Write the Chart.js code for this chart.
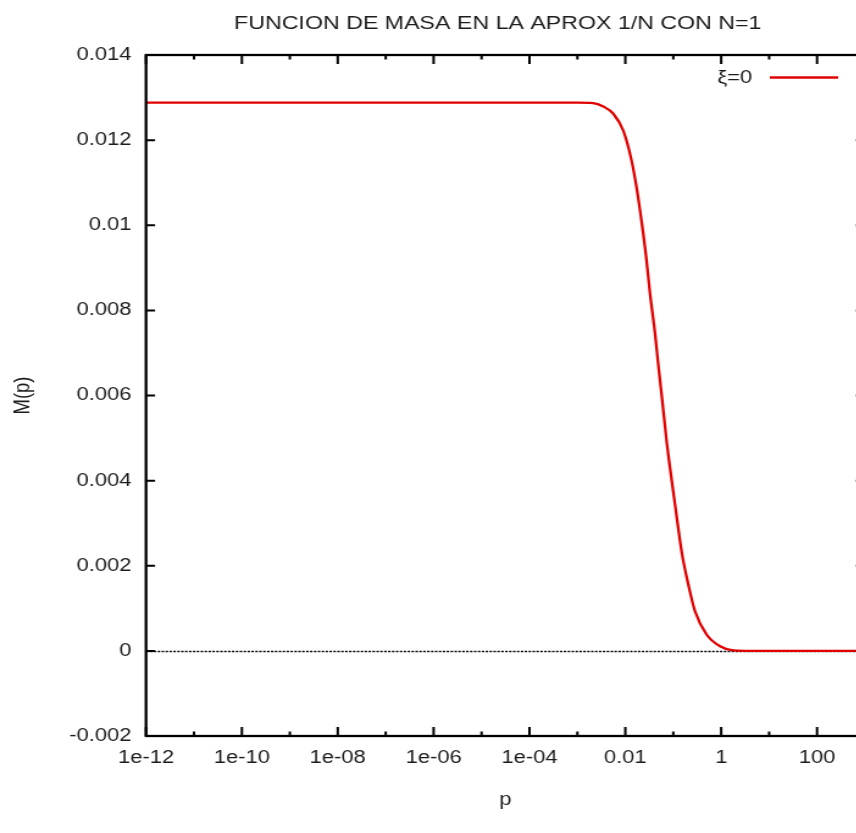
<!DOCTYPE html>
<html>
<head>
<meta charset="utf-8">
<script src="https://cdn.jsdelivr.net/npm/chart.js@4"></script>
<style>
  html, body { margin: 0; padding: 0; background: #fff; overflow: hidden; width: 856px; height: 833px; }
  /* the plot is laid out narrow and widened horizontally */
  #wrap { position: absolute; left: 0; top: 0; width: 816px; height: 833px; transform: scaleX(1.22); transform-origin: 0 0; }
</style>
</head>
<body>
<div id="wrap"><canvas id="c"></canvas></div>
<script>
// momentum p (log axis) and mass function M(p)
const momenta = [1e-12, 1e-10, 1e-8, 1e-6, 1e-4, 1e-3, 2.12e-3, 3.47e-3, 5.62e-3, 9.08e-3,
  1.36e-2, 1.73e-2, 2.20e-2, 2.70e-2, 3.27e-2, 4.17e-2, 4.89e-2, 5.74e-2, 7.31e-2, 9.29e-2,
  0.118, 0.150, 0.207, 0.284, 0.499, 0.946, 1.79, 3, 10, 100, 1000];
const massValues = [0.01288, 0.01288, 0.01288, 0.01288, 0.01288, 0.01288, 0.01287, 0.01279, 0.01262, 0.01222,
  0.01150, 0.01086, 0.01006, 0.00928, 0.00840, 0.00745, 0.00670, 0.00600, 0.00490, 0.00400,
  0.00315, 0.00232, 0.00155, 0.00093, 0.00038, 0.00011, 0.00001, 0, 0, 0, 0];
const seriesLabel = 'ξ=0';

const xTickValues = [1e-12, 1e-11, 1e-10, 1e-9, 1e-8, 1e-7, 1e-6, 1e-5, 1e-4, 1e-3, 1e-2, 1e-1, 1, 10, 100, 1000];
const xTickLabels = ['1e-12', '', '1e-10', '', '1e-08', '', '1e-06', '', '1e-04', '', '0.01', '', '1', '', '100', ''];
const yTickValues = [-0.002, 0, 0.002, 0.004, 0.006, 0.008, 0.01, 0.012, 0.014];
const yTickLabels = ['-0.002', '0', '0.002', '0.004', '0.006', '0.008', '0.01', '0.012', '0.014'];

const FONT = "'Liberation Sans', Arial, Helvetica, sans-serif";
const INK = '#1c1c1c';
const RED = '#e00000';

// gnuplot-style frame: border on all sides, inward ticks, dotted zero axis, key
const framePlugin = {
  id: 'frame',
  beforeDatasetsDraw(chart) {
    const { ctx, chartArea: a, scales: { y } } = chart;
    const y0 = Math.round(y.getPixelForValue(0)) + 0.5;
    ctx.save();
    ctx.strokeStyle = '#000';
    ctx.lineWidth = 1.5;
    ctx.setLineDash([2, 1.2]);
    ctx.beginPath();
    ctx.moveTo(a.left, y0);
    ctx.lineTo(a.right, y0);
    ctx.stroke();
    ctx.restore();
  },
  afterDatasetsDraw(chart) {
    const { ctx, chartArea: a, scales: { x, y } } = chart;
    ctx.save();
    ctx.strokeStyle = '#000';
    ctx.lineWidth = 2;
    ctx.lineCap = 'butt';
    // ticks
    xTickValues.forEach((v, i) => {
      const px = x.getPixelForValue(v);
      const len = xTickLabels[i] ? 9 : 4.5;
      ctx.beginPath();
      ctx.moveTo(px, a.bottom); ctx.lineTo(px, a.bottom - len);
      ctx.moveTo(px, a.top); ctx.lineTo(px, a.top + len);
      ctx.stroke();
    });
    yTickValues.forEach(v => {
      const py = y.getPixelForValue(v);
      ctx.beginPath();
      ctx.moveTo(a.left, py); ctx.lineTo(a.left + 7.4, py);
      ctx.moveTo(a.right, py); ctx.lineTo(a.right - 7.4, py);
      ctx.stroke();
    });
    // border
    ctx.lineWidth = 2.3;
    ctx.strokeRect(a.left, a.top, a.right - a.left, a.bottom - a.top);
    // key
    const ds = chart.data.datasets[0];
    ctx.font = '18px ' + FONT;
    ctx.fillStyle = INK;
    ctx.textAlign = 'right';
    ctx.textBaseline = 'middle';
    ctx.fillText(ds.label, 616.5, 78);
    ctx.strokeStyle = ds.borderColor;
    ctx.lineWidth = 2.4;
    ctx.beginPath();
    ctx.moveTo(631, 77.5);
    ctx.lineTo(687, 77.5);
    ctx.stroke();
    ctx.restore();
  }
};

new Chart(document.getElementById('c'), {
  type: 'line',
  data: {
    datasets: [{
      label: seriesLabel,
      data: momenta.map((p, i) => ({ x: p, y: massValues[i] })),
      borderColor: RED,
      borderWidth: 2.3,
      pointRadius: 0,
      cubicInterpolationMode: 'monotone',
      fill: false
    }]
  },
  options: {
    responsive: true,
    maintainAspectRatio: false,
    animation: false,
    layout: { padding: 0 },
    plugins: {
      legend: { display: false },
      tooltip: { enabled: false },
      title: {
        display: true,
        text: 'FUNCION DE MASA EN LA APROX 1/N CON N=1',
        color: INK,
        font: { family: FONT, size: 19, weight: 'normal', lineHeight: 1.2 },
        padding: { top: 12, bottom: 20.2 }
      }
    },
    scales: {
      x: {
        type: 'logarithmic',
        min: 1e-12,
        max: 1000,
        grid: { display: false, drawTicks: false },
        border: { display: false },
        afterBuildTicks: s => { s.ticks = xTickValues.map(v => ({ value: v })); },
        afterFit: s => { s.height = 97; },
        ticks: {
          autoSkip: false,
          maxRotation: 0,
          minRotation: 0,
          padding: 11,
          color: INK,
          font: { family: FONT, size: 18 },
          callback: (v, i) => xTickLabels[i]
        },
        title: {
          display: true,
          text: 'p',
          color: INK,
          font: { family: FONT, size: 18 },
          padding: { top: 0, bottom: 22 }
        }
      },
      y: {
        type: 'linear',
        min: -0.002,
        max: 0.014,
        grid: { display: false, drawTicks: false },
        border: { display: false },
        afterBuildTicks: s => { s.ticks = yTickValues.map(v => ({ value: v })); },
        afterFit: s => { s.width = 119.7; },
        ticks: {
          padding: 12,
          color: INK,
          font: { family: FONT, size: 18 },
          callback: (v, i) => yTickLabels[i]
        },
        title: {
          display: true,
          text: 'M(p)',
          color: INK,
          font: { family: FONT, size: 18.5 },
          padding: { top: 7.5, bottom: 0 }
        }
      },
      // empty right-hand margin box, keeps the title centred on the full canvas
      yRight: {
        type: 'linear',
        position: 'right',
        min: -0.002,
        max: 0.014,
        grid: { display: false, drawTicks: false },
        border: { display: false },
        ticks: { display: false },
        afterFit: s => { s.width = 107; }
      }
    }
  },
  plugins: [framePlugin]
});
</script>
</body>
</html>
